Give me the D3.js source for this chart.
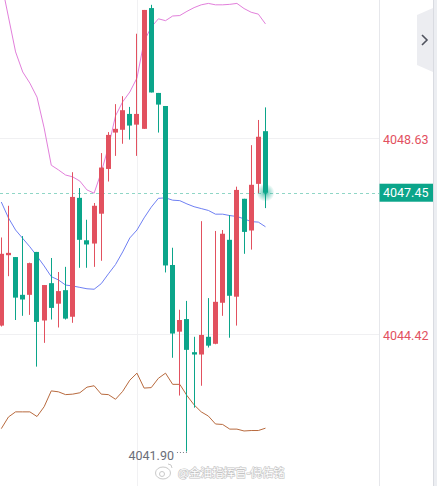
<!DOCTYPE html>
<html>
<head>
<meta charset="utf-8">
<script src="https://cdn.jsdelivr.net/npm/d3@7"></script>
<style>
  html, body { margin: 0; padding: 0; background: #fff; }
  svg { display: block; font-family: Roboto, "Noto Sans", sans-serif; }
</style>
</head>
<body>
<svg width="437" height="486"></svg>
<script>
// candles (red = up, green = down)
const opens  = [4044.60, 4046.11, 4046.07, 4045.26, 4045.26, 4046.18, 4044.71, 4045.51, 4045.07, 4045.36, 4044.79, 4047.34, 4046.43, 4046.36, 4047.00, 4047.96, 4048.74, 4048.80, 4049.14, 4048.91, 4048.82, 4051.41, 4049.59, 4049.31, 4045.90, 4044.47, 4044.74, 4044.03, 4043.98, 4044.36, 4044.21, 4045.09, 4046.44, 4045.22, 4047.32, 4046.64, 4047.64, 4048.77];
const closes = [4046.14, 4046.16, 4045.20, 4045.16, 4045.94, 4044.68, 4045.47, 4044.98, 4045.34, 4044.75, 4047.36, 4046.44, 4046.34, 4047.17, 4047.99, 4048.69, 4048.82, 4049.22, 4048.89, 4049.14, 4051.37, 4049.60, 4049.34, 4045.89, 4044.43, 4044.72, 4044.08, 4043.98, 4044.40, 4044.17, 4045.11, 4046.57, 4045.24, 4047.51, 4046.61, 4047.62, 4048.65, 4047.45];
const highs  = [4046.49, 4047.17, 4046.07, 4046.52, 4045.95, 4046.18, 4045.47, 4046.05, 4045.75, 4045.86, 4047.89, 4047.55, 4046.87, 4047.23, 4048.30, 4048.75, 4049.35, 4049.52, 4049.29, 4050.86, 4051.37, 4051.48, 4049.59, 4049.31, 4046.27, 4044.94, 4045.13, 4044.36, 4046.84, 4045.19, 4046.63, 4046.65, 4046.97, 4047.58, 4047.32, 4048.47, 4049.01, 4049.28];
const lows   = [4044.58, 4045.66, 4044.72, 4044.81, 4044.83, 4043.72, 4044.23, 4044.73, 4044.56, 4044.73, 4044.66, 4045.84, 4045.84, 4045.86, 4045.99, 4047.69, 4048.24, 4048.50, 4048.59, 4048.24, 4048.82, 4049.60, 4048.74, 4045.74, 4043.91, 4043.10, 4041.90, 4042.84, 4043.31, 4044.13, 4044.20, 4044.81, 4044.34, 4044.60, 4046.14, 4046.23, 4047.44, 4047.12];

// bollinger bands
const upperBand  = [4051.97, 4051.22, 4050.47, 4050.04, 4049.80, 4049.50, 4048.84, 4048.04, 4047.94, 4047.83, 4047.79, 4047.70, 4047.51, 4047.44, 4047.89, 4048.43, 4049.10, 4049.40, 4049.61, 4049.91, 4050.70, 4051.00, 4051.18, 4051.14, 4051.24, 4051.25, 4051.34, 4051.42, 4051.48, 4051.51, 4051.48, 4051.48, 4051.49, 4051.51, 4051.40, 4051.32, 4051.28, 4051.07];
const middleBand = [4047.25, 4046.91, 4046.65, 4046.47, 4046.29, 4046.09, 4045.88, 4045.65, 4045.58, 4045.47, 4045.45, 4045.42, 4045.39, 4045.38, 4045.50, 4045.71, 4045.91, 4046.18, 4046.48, 4046.65, 4046.91, 4047.14, 4047.33, 4047.34, 4047.29, 4047.28, 4047.21, 4047.15, 4047.11, 4047.07, 4046.99, 4046.99, 4046.96, 4046.94, 4046.89, 4046.83, 4046.82, 4046.72];
const lowerBand  = [4042.39, 4042.64, 4042.75, 4042.75, 4042.75, 4042.65, 4042.86, 4043.20, 4043.18, 4043.12, 4043.13, 4043.16, 4043.28, 4043.31, 4043.13, 4043.12, 4043.02, 4043.19, 4043.43, 4043.58, 4043.26, 4043.27, 4043.47, 4043.58, 4043.34, 4043.34, 4043.10, 4042.90, 4042.75, 4042.66, 4042.49, 4042.48, 4042.38, 4042.38, 4042.34, 4042.35, 4042.35, 4042.40];

const axisTicks = [4048.63, 4044.42];
const lastPrice = 4047.45;
const watermark = "@金油指挥官-倪佑铭";

const UP = "#e2515f", DOWN = "#0ba58a";
const plotRight = 379;

const svg = d3.select("svg");

const x = d3.scaleBand()
  .domain(d3.range(opens.length))
  .range([-2.27, 269.05])
  .paddingInner(0.3)
  .paddingOuter(0.15);
const cx = i => x(i) + x.bandwidth() / 2;

const y = d3.scaleLinear()
  .domain([4044.42, 4048.63])
  .range([334, 137.7]);

svg.append("defs").append("clipPath").attr("id", "plot")
  .append("rect").attr("x", 0).attr("y", 0).attr("width", plotRight).attr("height", 486);

const glow = svg.select("defs").append("radialGradient").attr("id", "glow");
glow.append("stop").attr("offset", "0%").attr("stop-color", DOWN).attr("stop-opacity", 0.9);
glow.append("stop").attr("offset", "35%").attr("stop-color", DOWN).attr("stop-opacity", 0.45);
glow.append("stop").attr("offset", "100%").attr("stop-color", DOWN).attr("stop-opacity", 0);

const plot = svg.append("g").attr("clip-path", "url(#plot)");

// grid
plot.append("line")
  .attr("x1", 137.5).attr("x2", 137.5).attr("y1", 0).attr("y2", 486)
  .attr("stroke", "#f1f1f3");
plot.selectAll(".hgrid").data(axisTicks).enter().append("line")
  .attr("x1", 0).attr("x2", plotRight)
  .attr("y1", d => Math.round(y(d)) + 0.5).attr("y2", d => Math.round(y(d)) + 0.5)
  .attr("stroke", "#f0f0f2");

// last price dashed line
plot.append("line")
  .attr("x1", 0).attr("x2", plotRight)
  .attr("y1", Math.round(y(lastPrice)) + 0.5).attr("y2", Math.round(y(lastPrice)) + 0.5)
  .attr("stroke", "#8fd6c6").attr("stroke-dasharray", "3,3");

// bands
const band = data => d3.line().x((d, i) => cx(i)).y(d => y(d))(data);
[[upperBand, "#e27fdb"], [middleBand, "#6f80f3"], [lowerBand, "#b86a3e"]].forEach(([data, color]) => {
  plot.append("path").attr("d", band(data))
    .attr("fill", "none").attr("stroke", color).attr("stroke-width", 1);
});

// candles
const candles = plot.selectAll(".candle").data(opens).enter().append("g");
candles.append("line")
  .attr("x1", (d, i) => Math.floor(cx(i)) + 0.5)
  .attr("x2", (d, i) => Math.floor(cx(i)) + 0.5)
  .attr("y1", (d, i) => y(highs[i]))
  .attr("y2", (d, i) => y(lows[i]))
  .attr("stroke", (d, i) => closes[i] >= d ? UP : DOWN);
candles.append("rect")
  .attr("x", (d, i) => Math.floor(cx(i)) - 2)
  .attr("width", 5)
  .attr("y", (d, i) => y(Math.max(d, closes[i])))
  .attr("height", (d, i) => Math.max(1.5, Math.abs(y(d) - y(closes[i]))))
  .attr("fill", (d, i) => closes[i] >= d ? UP : DOWN);

// glow on last close
const last = opens.length - 1;
plot.append("circle")
  .attr("cx", Math.floor(cx(last)) + 0.5).attr("cy", y(lastPrice))
  .attr("r", 9).attr("fill", "url(#glow)");

// lowest price marker
const lowIdx = d3.minIndex(lows);
const lowY = Math.round(y(lows[lowIdx])) + 0.5;
plot.append("line")
  .attr("x1", cx(lowIdx) - 10).attr("x2", cx(lowIdx))
  .attr("y1", lowY).attr("y2", lowY)
  .attr("stroke", "#7a7d88").attr("stroke-dasharray", "1,2");
plot.append("text")
  .attr("x", cx(lowIdx) - 13).attr("y", lowY + 3).attr("dy", "0.32em")
  .attr("text-anchor", "end").attr("font-size", 12.5).attr("fill", "#6b6e79")
  .text(d3.format(".2f")(lows[lowIdx]));

// price axis
svg.append("line")
  .attr("x1", plotRight + 0.5).attr("x2", plotRight + 0.5).attr("y1", 0).attr("y2", 486)
  .attr("stroke", "#e6e7eb");
const axis = svg.append("g")
  .attr("transform", `translate(${plotRight},0)`)
  .call(d3.axisRight(y).tickValues(axisTicks).tickSize(0).tickPadding(4).tickFormat(d3.format(".2f")));
axis.select(".domain").remove();
axis.selectAll("text")
  .attr("font-size", 12.5).attr("font-family", "Roboto, sans-serif").attr("fill", UP)
  .attr("dy", "0.45em");

// last price tag
svg.append("rect")
  .attr("x", plotRight + 0.5).attr("y", y(lastPrice) - 9)
  .attr("width", 54).attr("height", 18).attr("fill", DOWN);
svg.append("text")
  .attr("x", plotRight + 4).attr("y", y(lastPrice)).attr("dy", "0.36em")
  .attr("font-size", 12.5).attr("fill", "#fff")
  .text(d3.format(".2f")(lastPrice));

// right edge strip and collapse tab
svg.append("rect").attr("x", 433).attr("y", 0).attr("width", 4).attr("height", 486).attr("fill", "#eceef2");
svg.append("line").attr("x1", 433.5).attr("x2", 433.5).attr("y1", 0).attr("y2", 486).attr("stroke", "#d9dbe1");
svg.append("path")
  .attr("d", "M417,15 L433,8 L433,72 L417,65 Z")
  .attr("fill", "#ecedf1");
svg.append("path")
  .attr("d", "M422,35 L427,40 L422,45")
  .attr("fill", "none").attr("stroke", "#50535e").attr("stroke-width", 1.6);

// watermark
const wm = svg.append("g").attr("opacity", 0.9);
wm.append("ellipse").attr("cx", 163).attr("cy", 473).attr("rx", 7.5).attr("ry", 6)
  .attr("fill", "#fff").attr("stroke", "#c4c4c4").attr("stroke-width", 1);
wm.append("circle").attr("cx", 162).attr("cy", 474).attr("r", 2.5)
  .attr("fill", "none").attr("stroke", "#c4c4c4");
wm.append("path").attr("d", "M168,464 a4,4 0 0 1 4,4").attr("fill", "none").attr("stroke", "#c4c4c4");
wm.append("text")
  .attr("x", 178).attr("y", 473).attr("dy", "0.36em")
  .attr("font-family", "'Noto Sans CJK SC', sans-serif").attr("font-size", 11.5)
  .attr("fill", "#fff").attr("stroke", "#bdbdbd").attr("stroke-width", 1.2)
  .attr("paint-order", "stroke")
  .text(watermark);
</script>
</body>
</html>
